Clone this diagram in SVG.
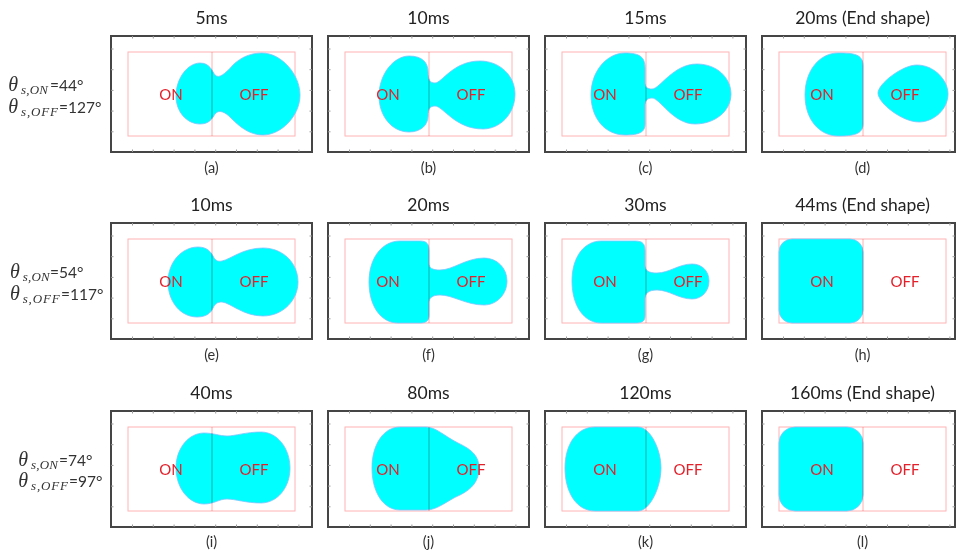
<svg xmlns="http://www.w3.org/2000/svg" xmlns:xlink="http://www.w3.org/1999/xlink" width="956" height="554" viewBox="0 0 956 554">
  <style>
    .frame{fill:#fff;stroke:#454545;stroke-width:2}
    .tick{stroke:#9a9a9a;stroke-width:1;fill:none}
    .box{fill:none;stroke:#ffb4b4;stroke-width:1}
    .div{stroke:#ffb0b0;stroke-width:1;mix-blend-mode:multiply}
    .drop{fill:#00ffff;stroke:#7cc4ff;stroke-width:0.8}
    .lbl{font-family:Lato,"Open Sans",sans-serif;font-size:15px;fill:#e4202a;text-anchor:middle}
    .ttl{font-family:Lato,"Open Sans",sans-serif;font-size:17.5px;fill:#222;text-anchor:middle}
    .cap{font-family:Lato,"Open Sans",sans-serif;font-size:14.5px;fill:#333;text-anchor:middle}
    .th{font-family:"Liberation Serif",serif;font-style:italic;fill:#333}
    .sub{font-family:"Liberation Serif",serif;font-style:italic;font-size:13px;fill:#333}
    .eq{font-family:Lato,"Open Sans",sans-serif;font-size:15.5px;fill:#333}
  </style>
  <defs>
    <!-- axis ticks for a full-width plot frame -->
    <path id="ticksW" class="tick" d="M21.5 0v2.5M42.3 0v2.5M63.1 0v2.5M83.9 0v2.5M104.7 0v2.5M125.5 0v2.5M146.3 0v2.5M167.1 0v2.5M187.9 0v2.5
      M21.5 116v-2.5M42.3 116v-2.5M63.1 116v-2.5M83.9 116v-2.5M104.7 116v-2.5M125.5 116v-2.5M146.3 116v-2.5M167.1 116v-2.5M187.9 116v-2.5
      M0 13h2.5M0 33.7h2.5M0 54.4h2.5M0 75.1h2.5M0 95.8h2.5
      M201 13h-2.5M201 33.7h-2.5M201 54.4h-2.5M201 75.1h-2.5M201 95.8h-2.5"/>
    <!-- ticks for the narrower right-hand column -->
    <path id="ticksN" class="tick" d="M21.5 0v2.5M42.3 0v2.5M63.1 0v2.5M83.9 0v2.5M104.7 0v2.5M125.5 0v2.5M146.3 0v2.5M167.1 0v2.5M187.9 0v2.5
      M21.5 116v-2.5M42.3 116v-2.5M63.1 116v-2.5M83.9 116v-2.5M104.7 116v-2.5M125.5 116v-2.5M146.3 116v-2.5M167.1 116v-2.5M187.9 116v-2.5
      M0 13h2.5M0 33.7h2.5M0 54.4h2.5M0 75.1h2.5M0 95.8h2.5
      M193 13h-2.5M193 33.7h-2.5M193 54.4h-2.5M193 75.1h-2.5M193 95.8h-2.5"/>
    <g id="plotW">
      <rect class="frame" x="0" y="0" width="201" height="116"/>
      <use xlink:href="#ticksW"/>
      <rect class="box" x="17" y="16" width="167" height="84"/>
    </g>
    <g id="plotN">
      <rect class="frame" x="0" y="0" width="193" height="116"/>
      <use xlink:href="#ticksN"/>
      <rect class="box" x="17" y="16" width="167" height="84"/>
    </g>
    <g id="over">
      <line class="div" x1="101" y1="16" x2="101" y2="100"/>
      <text class="lbl" x="60" y="64">ON</text>
      <text class="lbl" x="143" y="64">OFF</text>
    </g>
  </defs>

  <!-- contact-angle labels for each row -->
  <g id="row1-angles">
    <text class="th" x="8.3" y="91" font-size="20">θ</text>
    <text class="sub" x="21" y="94" textLength="27" lengthAdjust="spacing">s,ON</text>
    <text class="eq" x="50" y="91">=44°</text>
    <text class="th" x="8.3" y="113" font-size="20">θ</text>
    <text class="sub" x="21" y="116" textLength="37" lengthAdjust="spacing">s,OFF</text>
    <text class="eq" x="59" y="113">=127°</text>
  </g>
  <g id="row2-angles">
    <text class="th" x="10" y="277.5" font-size="20">θ</text>
    <text class="sub" x="22.7" y="280.5" textLength="27" lengthAdjust="spacing">s,ON</text>
    <text class="eq" x="50" y="277.5">=54°</text>
    <text class="th" x="10" y="299.5" font-size="20">θ</text>
    <text class="sub" x="22.7" y="302.5" textLength="37" lengthAdjust="spacing">s,OFF</text>
    <text class="eq" x="61" y="299.5">=117°</text>
  </g>
  <g id="row3-angles">
    <text class="th" x="18.3" y="466" font-size="20">θ</text>
    <text class="sub" x="31" y="469" textLength="27" lengthAdjust="spacing">s,ON</text>
    <text class="eq" x="59" y="466">=74°</text>
    <text class="th" x="18.3" y="486.5" font-size="20">θ</text>
    <text class="sub" x="31" y="489.5" textLength="37" lengthAdjust="spacing">s,OFF</text>
    <text class="eq" x="69" y="486.5">=97°</text>
  </g>

  <!-- row 1 -->
  <g id="panel-a" transform="translate(111,36)">
    <text class="ttl" x="100.5" y="-12.5">5ms</text>
    <use xlink:href="#plotW"/>
    <path class="drop" d="M65 60C65 42 77 27 89 27C99 27 101 35 104 39C108 43 114 38 122 29C130 21 140 17 151 17C170 17 189 38 189 59C189 80 170 99 152 99C138 99 128 90 120 82C114 76 108 73 104 78C101 83 98 88 89 88C76 88 65 76 65 60Z"/>
    <use xlink:href="#over"/>
    <text class="cap" x="100.5" y="137">(a)</text>
  </g>
  <g id="panel-b" transform="translate(328,36)">
    <text class="ttl" x="100.5" y="-12.5">10ms</text>
    <use xlink:href="#plotW"/>
    <path class="drop" d="M51 60C51 38 66 20 81 20C95 20 100 27 100 36C100 44 102 47 107 47C114 47 125 25 152 25C172 25 187 40 187 58C187 78 172 93 155 93C127 93 115 70 107 70C102 70 100 73 100 80C100 89 93 96 81 96C64 96 51 80 51 60Z"/>
    <use xlink:href="#over"/>
    <text class="cap" x="100.5" y="137">(b)</text>
  </g>
  <g id="panel-c" transform="translate(545,36)">
    <text class="ttl" x="100.5" y="-12.5">15ms</text>
    <use xlink:href="#plotW"/>
    <path class="drop" d="M46 59C46 35 62 17 80 17C96 17 100 22 100 32L100 46C100 51 102 53 107 53C115 53 128 28 152 28C172 28 186 42 186 58C186 75 170 88 150 88C128 88 115 62 107 62C102 62 100 65 100 70L100 88C100 96 95 99 80 99C60 99 46 82 46 59Z"/>
    <use xlink:href="#over"/>
    <text class="cap" x="100.5" y="137">(c)</text>
  </g>
  <g id="panel-d" transform="translate(762,36)">
    <text class="ttl" x="100.5" y="-12.5">20ms (End shape)</text>
    <use xlink:href="#plotN"/>
    <path class="drop" d="M43 59C43 34 58 17 76 17C92 17 101 18 101 30L101 88C101 98 92 100 76 100C58 100 43 84 43 59Z"/>
    <path class="drop" d="M116 57C116 48 140 29 155 29C172 29 186 44 186 58C186 73 172 86 157 86C140 86 116 67 116 57Z"/>
    <use xlink:href="#over"/>
    <text class="cap" x="100.5" y="137">(d)</text>
  </g>

  <!-- row 2 -->
  <g id="panel-e" transform="translate(111,223)">
    <text class="ttl" x="100.5" y="-12.5">10ms</text>
    <use xlink:href="#plotW"/>
    <path class="drop" d="M57 59C57 39 71 24 87 24C96 24 100 29 102 33C104 37 106 39 111 38C120 36 132 25 152 25C172 25 187 40 187 59C187 77 172 93 152 93C132 93 120 80 111 79C106 79 104 81 102 85C100 90 95 94 86 94C70 94 57 79 57 59Z"/>
    <use xlink:href="#over"/>
    <text class="cap" x="100.5" y="137">(e)</text>
  </g>
  <g id="panel-f" transform="translate(328,223)">
    <text class="ttl" x="100.5" y="-12.5">20ms</text>
    <use xlink:href="#plotW"/>
    <path class="drop" d="M41 59C41 35 54 18 72 18L92 18C99 18 101 21 101 28L101 40C101 45 104 47 112 47C125 47 138 35 156 35C169 35 179 45 179 58C179 71 169 82 156 82C138 82 125 72 112 72C104 72 101 75 101 80L101 92C101 98 98 100 92 100L70 100C53 100 41 83 41 59Z"/>
    <use xlink:href="#over"/>
    <text class="cap" x="100.5" y="137">(f)</text>
  </g>
  <g id="panel-g" transform="translate(545,223)">
    <text class="ttl" x="100.5" y="-12.5">30ms</text>
    <use xlink:href="#plotW"/>
    <path class="drop" d="M27 58C27 33 40 18 56 18L90 18C98 18 100 21 100 28L100 42C100 48 104 50 112 50C124 50 134 41 147 41C157 41 164 48 164 58C164 68 157 76 147 76C134 76 124 67 112 67C104 67 100 70 100 76L100 92C100 98 98 100 90 100L56 100C40 100 27 84 27 58Z"/>
    <use xlink:href="#over"/>
    <text class="cap" x="100.5" y="137">(g)</text>
  </g>
  <g id="panel-h" transform="translate(762,223)">
    <text class="ttl" x="100.5" y="-12.5">44ms (End shape)</text>
    <use xlink:href="#plotN"/>
    <rect class="drop" x="17" y="16" width="84" height="84" rx="13" ry="13"/>
    <use xlink:href="#over"/>
    <text class="cap" x="100.5" y="137">(h)</text>
  </g>

  <!-- row 3 -->
  <g id="panel-i" transform="translate(111,411)">
    <text class="ttl" x="100.5" y="-12.5">40ms</text>
    <use xlink:href="#plotW"/>
    <path class="drop" d="M65 57C65 37 78 22 93 22C103 22 108 25 116 25C124 25 135 21 150 21C166 21 179 37 179 57C179 77 166 92 150 92C135 92 124 88 116 88C108 88 103 93 93 93C78 93 65 77 65 57Z"/>
    <use xlink:href="#over"/>
    <text class="cap" x="100.5" y="136">(i)</text>
  </g>
  <g id="panel-j" transform="translate(328,411)">
    <text class="ttl" x="100.5" y="-12.5">80ms</text>
    <use xlink:href="#plotW"/>
    <path class="drop" d="M44 57C44 33 56 16 72 16L98 16C108 16 116 25 130 32C145 39 151 46 151 57C151 70 144 78 132 84C118 90 110 99 98 99L72 99C56 99 44 82 44 57Z"/>
    <use xlink:href="#over"/>
    <text class="cap" x="100.5" y="136">(j)</text>
  </g>
  <g id="panel-k" transform="translate(545,411)">
    <text class="ttl" x="100.5" y="-12.5">120ms</text>
    <use xlink:href="#plotW"/>
    <path class="drop" d="M20 57C20 33 32 16 50 16L93 16C105 16 116 38 116 57C116 76 105 100 93 100L50 100C32 100 20 82 20 57Z"/>
    <use xlink:href="#over"/>
    <text class="cap" x="100.5" y="136">(k)</text>
  </g>
  <g id="panel-l" transform="translate(762,411)">
    <text class="ttl" x="100.5" y="-12.5">160ms (End shape)</text>
    <use xlink:href="#plotN"/>
    <rect class="drop" x="17" y="16" width="84" height="84" rx="16" ry="16"/>
    <use xlink:href="#over"/>
    <text class="cap" x="100.5" y="136">(l)</text>
  </g>
</svg>
